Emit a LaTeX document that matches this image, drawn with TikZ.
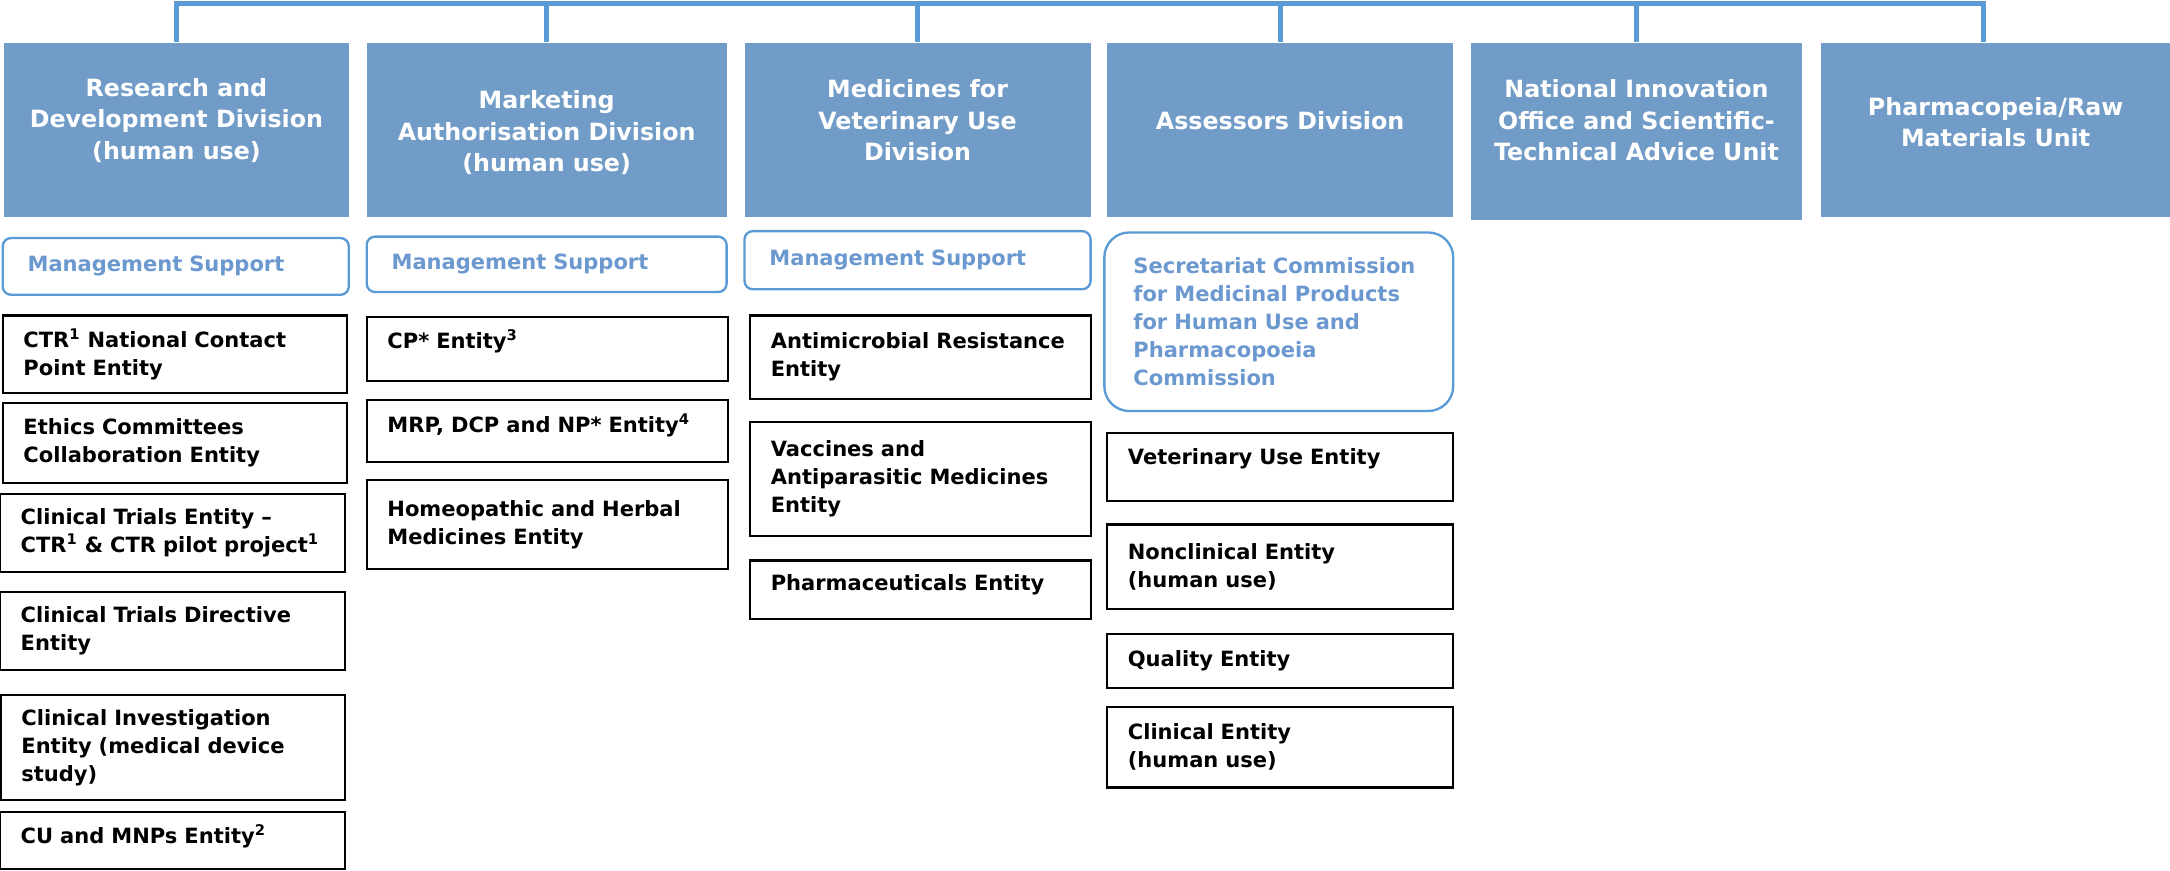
\documentclass[tikz,border=0pt]{standalone}
\usepackage{fontspec}
\setmainfont{DejaVu Sans}
\usepackage{tikz}
\usetikzlibrary{positioning,calc}

\definecolor{busblue}{RGB}{91,155,213}
\definecolor{headblue}{RGB}{114,156,200}
\definecolor{supportblue}{RGB}{107,153,207}

\begin{document}
\begin{tikzpicture}[
    x=0.025cm, y=-0.025cm,
    division/.style={rectangle, fill=headblue, inner sep=0pt, minimum height=3.15cm},
    divtext/.style={text=white, align=center, font=\fontsize{12.2}{16.1}\selectfont\bfseries},
    support/.style={rectangle, draw=busblue, line width=1.2pt, rounded corners=0.15cm,
        text=supportblue, align=left, inner xsep=0.45cm,
        font=\fontsize{10.8}{14.4}\selectfont\bfseries},
    entity/.style={rectangle, draw=black, line width=1.1pt, align=left, inner xsep=0.375cm,
        font=\fontsize{10.8}{14.4}\selectfont\bfseries},
    colA/.style={minimum width=6.225cm, text width=5.475cm},
    colB/.style={minimum width=6.525cm, text width=5.775cm},
    colC/.style={minimum width=6.15cm, text width=5.4cm},
    colD/.style={minimum width=6.25cm, text width=5.5cm},
    bus/.style={draw=busblue, line width=2.6pt}
]
    \useasboundingbox (0,0) rectangle (1568,629);

    % divisions
    \node[division, minimum width=6.225cm] (rd) at (127.5,94) {};
    \node[division, minimum width=6.5cm] (ma) at (395,94) {};
    \node[division, minimum width=6.25cm] (mv) at (663,94) {};
    \node[division, minimum width=6.25cm] (as) at (925,94) {};
    \node[division, minimum width=5.975cm, minimum height=3.2cm] (ni) at (1182.5,95) {};
    \node[division, minimum width=6.3cm] (ph) at (1442,94) {};

    \node[divtext] (rdtext) at (127.5,87) {Research and\\Development Division\\(human use)};
    \node[divtext] (matext) at (395,96) {Marketing\\Authorisation Division\\(human use)};
    \node[divtext] (mvtext) at (663,87) {Medicines for\\Veterinary Use\\Division};
    \node[divtext] (astext) at (925,87) {Assessors Division};
    \node[divtext] (nitext) at (1182.5,87) {National Innovation\\Office and Scientific-\\Technical Advice Unit};
    \node[divtext] (phtext) at (1442,88.5) {Pharmacopeia/Raw\\Materials Unit};

    \coordinate (bustop) at (0,2.5);
    \draw[bus] (rd.north) -- (rd.north |- bustop) -| ([xshift=-0.225cm]ph.north);
    \foreach \d in {ma,mv,as,ni}
        \draw[bus] (\d.north) -- (\d.north |- bustop);

    % management support
    \node[support, minimum width=6.25cm, text width=5.35cm, minimum height=1.025cm] (msA) at (127,192.5) {Management Support};
    \node[support, minimum width=6.5cm, text width=5.6cm, minimum height=1cm] (msB) at (395,191) {Management Support};
    \node[support, minimum width=6.25cm, text width=5.35cm, minimum height=1.05cm] (msC) at (663,188) {Management Support};
    \node[support, rounded corners=0.45cm, inner xsep=0.525cm, minimum width=6.3cm, text width=5.25cm, minimum height=3.225cm] (sec) at (924,232.5)
        {Secretariat Commission\\for Medicinal Products\\for Human Use and\\Pharmacopoeia\\Commission};

    % research and development
    \node[entity, colA, minimum height=1.4cm] (ctr) at (126.5,256) {CTR\textsuperscript{1} National Contact\\Point Entity};
    \node[entity, colA, minimum height=1.45cm] (ethics) at (126.5,320) {Ethics Committees\\Collaboration Entity};
    \node[entity, colA, minimum height=1.4cm] (trials) at (124.5,385) {Clinical Trials Entity –\\CTR\textsuperscript{1} \& CTR pilot project\textsuperscript{1}};
    \node[entity, colA, minimum height=1.4cm] (ctd) at (124.5,456) {Clinical Trials Directive\\Entity};
    \node[entity, colA, minimum height=1.9cm] (cie) at (125,540) {Clinical Investigation\\Entity (medical device\\study)};
    \node[entity, colA, minimum height=1.025cm, text depth=0.24cm] (cu) at (124.5,607.5) {CU and MNPs Entity\textsuperscript{2}};

    % marketing authorisation
    \node[entity, colB, minimum height=1.15cm, text depth=0.34cm] (cp) at (395.5,252) {CP* Entity\textsuperscript{3}};
    \node[entity, colB, minimum height=1.125cm, text depth=0.29cm] (mrp) at (395.5,311.5) {MRP, DCP and NP* Entity\textsuperscript{4}};
    \node[entity, colB, minimum height=1.6cm] (homeo) at (395.5,379) {Homeopathic and Herbal\\Medicines Entity};

    % veterinary use
    \node[entity, colC, minimum height=1.5cm] (amr) at (665,258) {Antimicrobial Resistance\\Entity};
    \node[entity, colC, minimum height=2.05cm] (vacc) at (665,346) {Vaccines and\\Antiparasitic Medicines\\Entity};
    \node[entity, colC, minimum height=1.05cm, text depth=0.24cm] (pharm) at (665,426) {Pharmaceuticals Entity};

    % assessors
    \node[entity, colD, minimum height=1.225cm, text depth=0.39cm] (vet) at (925,337.5) {Veterinary Use Entity};
    \node[entity, colD, minimum height=1.525cm] (noncl) at (925,409.5) {Nonclinical Entity\\(human use)};
    \node[entity, colD, minimum height=0.975cm] (qual) at (925,477.5) {Quality Entity};
    \node[entity, colD, minimum height=1.45cm] (clin) at (925,540) {Clinical Entity\\(human use)};
\end{tikzpicture}
\end{document}
